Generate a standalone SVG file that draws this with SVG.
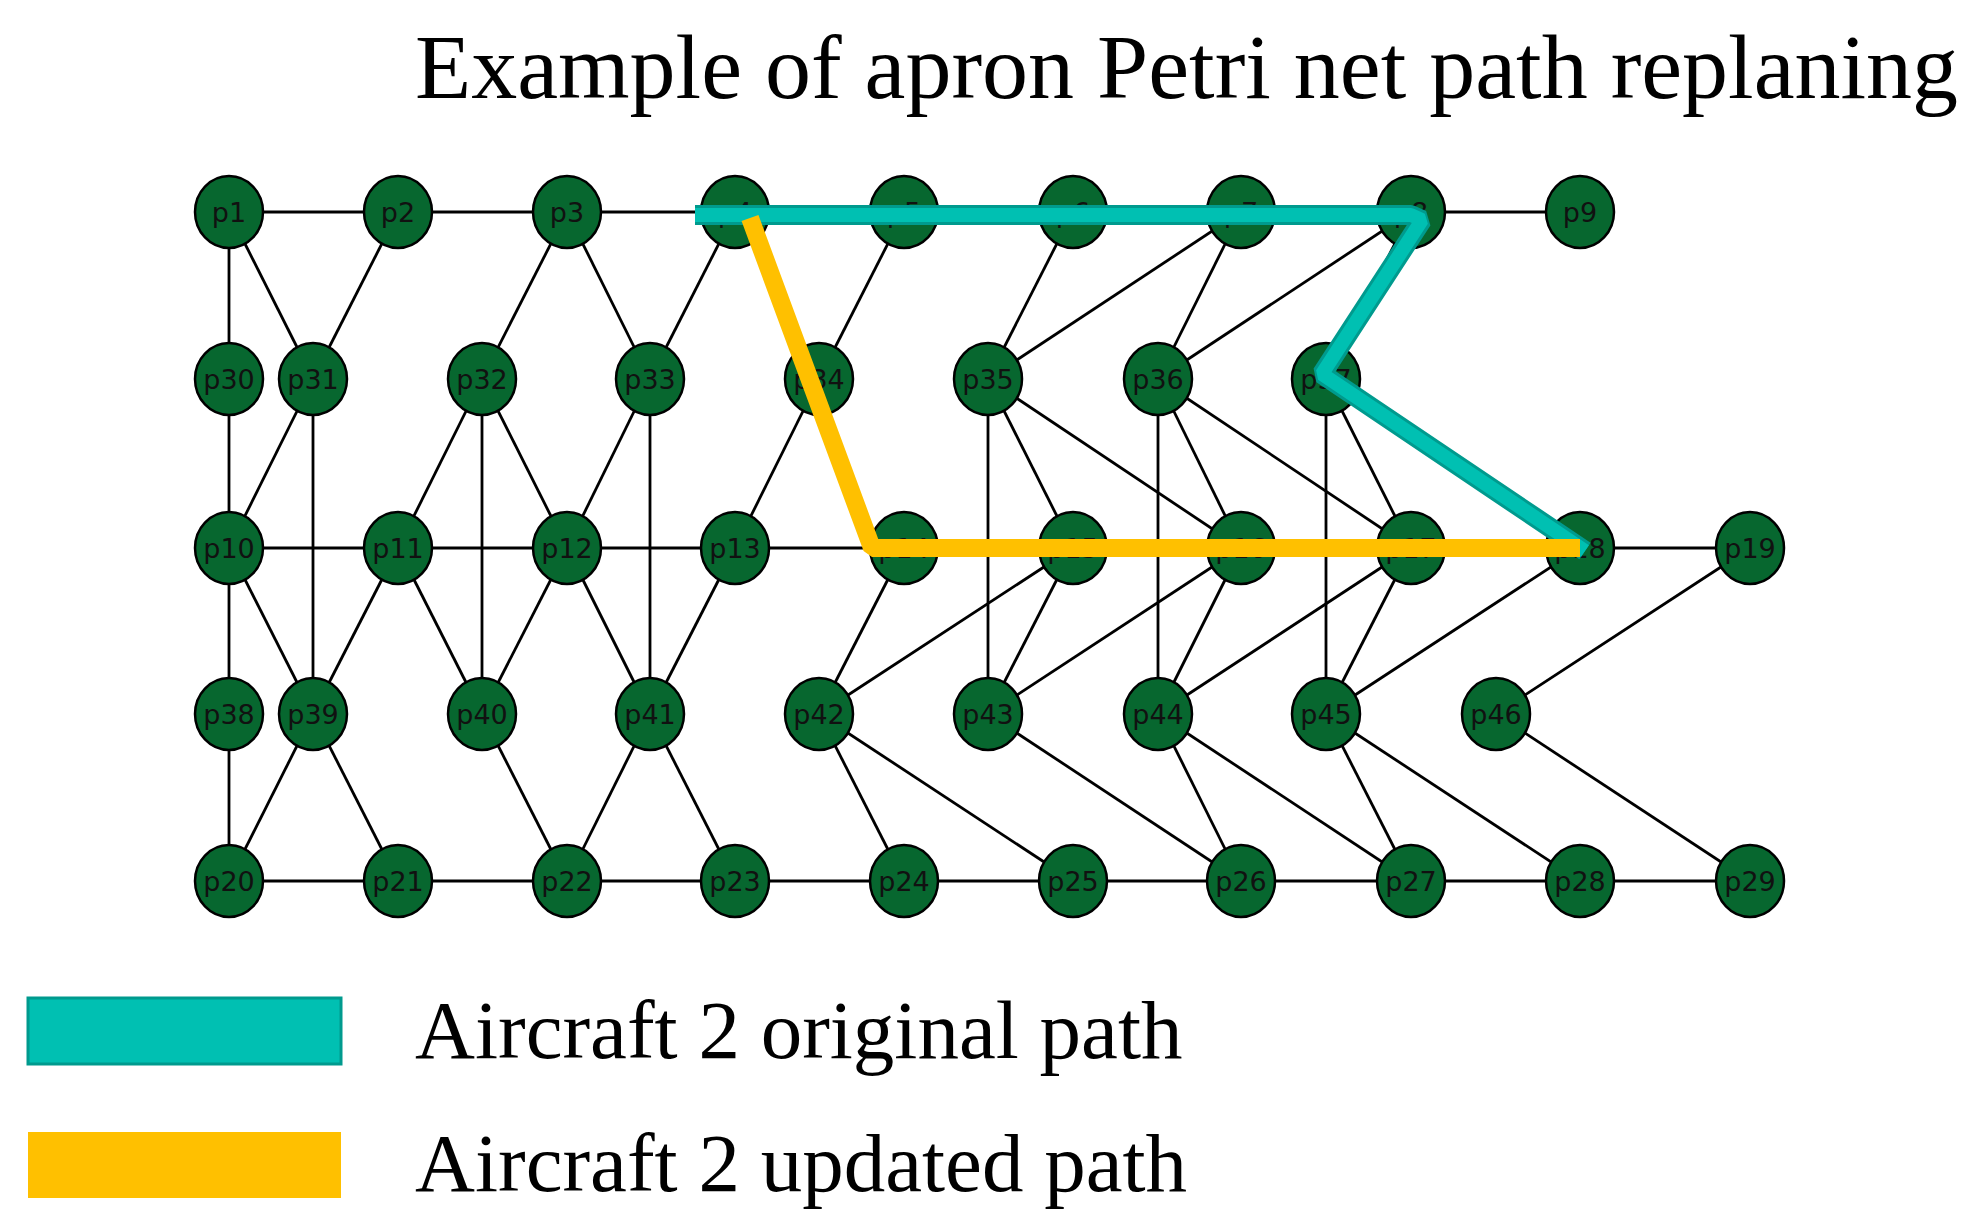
<svg xmlns="http://www.w3.org/2000/svg" width="1988" height="1227" viewBox="0 0 1988 1227">
<style>
.n ellipse{fill:#07672f;stroke:#000;stroke-width:2.5}
.n text{font-family:"DejaVu Sans",sans-serif;font-size:27px;fill:#111;text-anchor:middle;dominant-baseline:central}
#edges line{stroke:#000;stroke-width:2.8}
.big{font-family:"Liberation Serif",serif;fill:#000}
</style>
<rect width="1988" height="1227" fill="#fff"/>
<text class="big" x="415" y="98" font-size="92">Example of apron Petri net path replaning</text>
<g id="edges">
<line x1="229" y1="212" x2="1580" y2="212"/>
<line x1="229" y1="548" x2="1750" y2="548"/>
<line x1="229" y1="881" x2="1750" y2="881"/>
<line x1="229" y1="212" x2="229" y2="881"/>
<line x1="313" y1="379" x2="313" y2="714"/>
<line x1="482" y1="379" x2="482" y2="714"/>
<line x1="650" y1="379" x2="650" y2="714"/>
<line x1="988" y1="379" x2="988" y2="714"/>
<line x1="1158" y1="379" x2="1158" y2="714"/>
<line x1="1326" y1="379" x2="1326" y2="714"/>
<line x1="229" y1="212" x2="313" y2="379"/>
<line x1="398" y1="212" x2="313" y2="379"/>
<line x1="567" y1="212" x2="482" y2="379"/>
<line x1="567" y1="212" x2="650" y2="379"/>
<line x1="735" y1="212" x2="650" y2="379"/>
<line x1="904" y1="212" x2="819" y2="379"/>
<line x1="1073" y1="212" x2="988" y2="379"/>
<line x1="1241" y1="212" x2="988" y2="379"/>
<line x1="1241" y1="212" x2="1158" y2="379"/>
<line x1="1411" y1="212" x2="1158" y2="379"/>
<line x1="1411" y1="212" x2="1326" y2="379"/>
<line x1="313" y1="379" x2="229" y2="548"/>
<line x1="482" y1="379" x2="398" y2="548"/>
<line x1="482" y1="379" x2="567" y2="548"/>
<line x1="650" y1="379" x2="567" y2="548"/>
<line x1="819" y1="379" x2="735" y2="548"/>
<line x1="988" y1="379" x2="1073" y2="548"/>
<line x1="988" y1="379" x2="1241" y2="548"/>
<line x1="1158" y1="379" x2="1241" y2="548"/>
<line x1="1158" y1="379" x2="1411" y2="548"/>
<line x1="1326" y1="379" x2="1411" y2="548"/>
<line x1="1326" y1="379" x2="1580" y2="548"/>
<line x1="229" y1="548" x2="313" y2="714"/>
<line x1="398" y1="548" x2="313" y2="714"/>
<line x1="398" y1="548" x2="482" y2="714"/>
<line x1="567" y1="548" x2="482" y2="714"/>
<line x1="567" y1="548" x2="650" y2="714"/>
<line x1="735" y1="548" x2="650" y2="714"/>
<line x1="904" y1="548" x2="819" y2="714"/>
<line x1="1073" y1="548" x2="819" y2="714"/>
<line x1="1073" y1="548" x2="988" y2="714"/>
<line x1="1241" y1="548" x2="988" y2="714"/>
<line x1="1241" y1="548" x2="1158" y2="714"/>
<line x1="1411" y1="548" x2="1158" y2="714"/>
<line x1="1411" y1="548" x2="1326" y2="714"/>
<line x1="1580" y1="548" x2="1326" y2="714"/>
<line x1="1750" y1="548" x2="1496" y2="714"/>
<line x1="313" y1="714" x2="229" y2="881"/>
<line x1="313" y1="714" x2="398" y2="881"/>
<line x1="482" y1="714" x2="567" y2="881"/>
<line x1="650" y1="714" x2="567" y2="881"/>
<line x1="650" y1="714" x2="735" y2="881"/>
<line x1="819" y1="714" x2="904" y2="881"/>
<line x1="819" y1="714" x2="1073" y2="881"/>
<line x1="988" y1="714" x2="1241" y2="881"/>
<line x1="1158" y1="714" x2="1241" y2="881"/>
<line x1="1158" y1="714" x2="1411" y2="881"/>
<line x1="1326" y1="714" x2="1411" y2="881"/>
<line x1="1326" y1="714" x2="1580" y2="881"/>
<line x1="1496" y1="714" x2="1750" y2="881"/>
</g>
<g class="n">
<g id="p1"><ellipse cx="229" cy="212" rx="34" ry="36"/><text x="229" y="212">p1</text></g>
<g id="p2"><ellipse cx="398" cy="212" rx="34" ry="36"/><text x="398" y="212">p2</text></g>
<g id="p3"><ellipse cx="567" cy="212" rx="34" ry="36"/><text x="567" y="212">p3</text></g>
<g id="p4"><ellipse cx="735" cy="212" rx="34" ry="36"/><text x="735" y="212">p4</text></g>
<g id="p5"><ellipse cx="904" cy="212" rx="34" ry="36"/><text x="904" y="212">p5</text></g>
<g id="p6"><ellipse cx="1073" cy="212" rx="34" ry="36"/><text x="1073" y="212">p6</text></g>
<g id="p7"><ellipse cx="1241" cy="212" rx="34" ry="36"/><text x="1241" y="212">p7</text></g>
<g id="p8"><ellipse cx="1411" cy="212" rx="34" ry="36"/><text x="1411" y="212">p8</text></g>
<g id="p9"><ellipse cx="1580" cy="212" rx="34" ry="36"/><text x="1580" y="212">p9</text></g>
<g id="p30"><ellipse cx="229" cy="379" rx="34" ry="36"/><text x="229" y="379">p30</text></g>
<g id="p31"><ellipse cx="313" cy="379" rx="34" ry="36"/><text x="313" y="379">p31</text></g>
<g id="p32"><ellipse cx="482" cy="379" rx="34" ry="36"/><text x="482" y="379">p32</text></g>
<g id="p33"><ellipse cx="650" cy="379" rx="34" ry="36"/><text x="650" y="379">p33</text></g>
<g id="p34"><ellipse cx="819" cy="379" rx="34" ry="36"/><text x="819" y="379">p34</text></g>
<g id="p35"><ellipse cx="988" cy="379" rx="34" ry="36"/><text x="988" y="379">p35</text></g>
<g id="p36"><ellipse cx="1158" cy="379" rx="34" ry="36"/><text x="1158" y="379">p36</text></g>
<g id="p37"><ellipse cx="1326" cy="379" rx="34" ry="36"/><text x="1326" y="379">p37</text></g>
<g id="p10"><ellipse cx="229" cy="548" rx="34" ry="36"/><text x="229" y="548">p10</text></g>
<g id="p11"><ellipse cx="398" cy="548" rx="34" ry="36"/><text x="398" y="548">p11</text></g>
<g id="p12"><ellipse cx="567" cy="548" rx="34" ry="36"/><text x="567" y="548">p12</text></g>
<g id="p13"><ellipse cx="735" cy="548" rx="34" ry="36"/><text x="735" y="548">p13</text></g>
<g id="p14"><ellipse cx="904" cy="548" rx="34" ry="36"/><text x="904" y="548">p14</text></g>
<g id="p15"><ellipse cx="1073" cy="548" rx="34" ry="36"/><text x="1073" y="548">p15</text></g>
<g id="p16"><ellipse cx="1241" cy="548" rx="34" ry="36"/><text x="1241" y="548">p16</text></g>
<g id="p17"><ellipse cx="1411" cy="548" rx="34" ry="36"/><text x="1411" y="548">p17</text></g>
<g id="p18"><ellipse cx="1580" cy="548" rx="34" ry="36"/><text x="1580" y="548">p18</text></g>
<g id="p19"><ellipse cx="1750" cy="548" rx="34" ry="36"/><text x="1750" y="548">p19</text></g>
<g id="p38"><ellipse cx="229" cy="714" rx="34" ry="36"/><text x="229" y="714">p38</text></g>
<g id="p39"><ellipse cx="313" cy="714" rx="34" ry="36"/><text x="313" y="714">p39</text></g>
<g id="p40"><ellipse cx="482" cy="714" rx="34" ry="36"/><text x="482" y="714">p40</text></g>
<g id="p41"><ellipse cx="650" cy="714" rx="34" ry="36"/><text x="650" y="714">p41</text></g>
<g id="p42"><ellipse cx="819" cy="714" rx="34" ry="36"/><text x="819" y="714">p42</text></g>
<g id="p43"><ellipse cx="988" cy="714" rx="34" ry="36"/><text x="988" y="714">p43</text></g>
<g id="p44"><ellipse cx="1158" cy="714" rx="34" ry="36"/><text x="1158" y="714">p44</text></g>
<g id="p45"><ellipse cx="1326" cy="714" rx="34" ry="36"/><text x="1326" y="714">p45</text></g>
<g id="p46"><ellipse cx="1496" cy="714" rx="34" ry="36"/><text x="1496" y="714">p46</text></g>
<g id="p20"><ellipse cx="229" cy="881" rx="34" ry="36"/><text x="229" y="881">p20</text></g>
<g id="p21"><ellipse cx="398" cy="881" rx="34" ry="36"/><text x="398" y="881">p21</text></g>
<g id="p22"><ellipse cx="567" cy="881" rx="34" ry="36"/><text x="567" y="881">p22</text></g>
<g id="p23"><ellipse cx="735" cy="881" rx="34" ry="36"/><text x="735" y="881">p23</text></g>
<g id="p24"><ellipse cx="904" cy="881" rx="34" ry="36"/><text x="904" y="881">p24</text></g>
<g id="p25"><ellipse cx="1073" cy="881" rx="34" ry="36"/><text x="1073" y="881">p25</text></g>
<g id="p26"><ellipse cx="1241" cy="881" rx="34" ry="36"/><text x="1241" y="881">p26</text></g>
<g id="p27"><ellipse cx="1411" cy="881" rx="34" ry="36"/><text x="1411" y="881">p27</text></g>
<g id="p28"><ellipse cx="1580" cy="881" rx="34" ry="36"/><text x="1580" y="881">p28</text></g>
<g id="p29"><ellipse cx="1750" cy="881" rx="34" ry="36"/><text x="1750" y="881">p29</text></g>
</g>
<g id="paths" fill="none" stroke-linejoin="bevel">
<polyline points="695,215 1411,215 1422,220 1322,374 1585,551" stroke="#009a8e" stroke-width="20"/>
<polyline points="695,215 1411,215 1422,220 1322,374 1585,551" stroke="#00c0b2" stroke-width="14"/>
<polyline points="750,218 872,548 1580,548" stroke="#ffc000" stroke-width="18"/>
</g>
<g id="legend">
<rect x="28" y="998" width="313" height="66" fill="#00c0b2" stroke="#009a8e" stroke-width="3"/>
<text class="big" x="415" y="1058" font-size="83">Aircraft 2 original path</text>
<rect x="28" y="1132" width="313" height="66" fill="#ffc000"/>
<text class="big" x="415" y="1191" font-size="83">Aircraft 2 updated path</text>
</g>
</svg>
